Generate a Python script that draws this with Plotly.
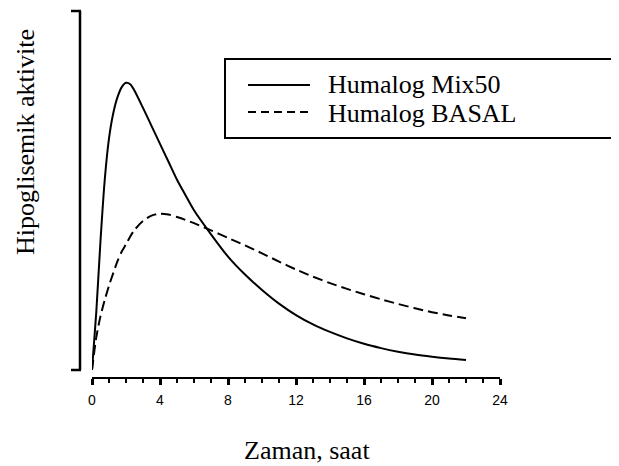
import plotly.graph_objects as go

# ---- data ----
hours = [0, 0.25, 0.5, 0.75, 1, 1.25, 1.5, 1.75, 2, 2.25, 2.5, 3, 3.5, 4, 4.5, 5, 5.5, 6, 7, 8, 9, 10,
         11, 12, 13, 14, 15, 16, 17, 18, 19, 20, 21, 22]
mix50 = [0, 16, 36, 53, 64.5, 71.5, 76, 78.8, 80, 79.6, 77.8, 73, 68, 63, 58, 53, 48.7, 44.5, 37.8, 31.6, 26.6, 22.3,
         18.5, 15.3, 12.7, 10.6, 8.8, 7.3, 6.1, 5.1, 4.3, 3.7, 3.2, 2.8]
basal = [0, 9, 15, 19.5, 23.5, 27, 30.3, 33, 35, 37.2, 39, 41.5, 43, 43.5, 43.3, 42.6, 41.8, 40.9, 38.9, 36.8, 34.7, 32.5,
         30.2, 28.0, 26.0, 24.2, 22.6, 21.1, 19.7, 18.4, 17.2, 16.1, 15.2, 14.4]
series_names = ["Humalog Mix50", "Humalog BASAL"]
x_ticks = [0, 4, 8, 12, 16, 20, 24]
x_title = "Zaman, saat"
y_title = "Hipoglisemik aktivite"

SERIF = "Liberation Serif, Times New Roman, serif"
SANS = "Liberation Sans, Arial, sans-serif"

fig = go.Figure()
fig.add_trace(go.Scatter(x=hours, y=mix50, mode="lines", name=series_names[0],
                         line=dict(color="black", width=2, shape="spline", smoothing=0.8)))
fig.add_trace(go.Scatter(x=hours, y=basal, mode="lines", name=series_names[1],
                         line=dict(color="black", width=2, dash="10px,5px", shape="spline", smoothing=0.8)))

OFF = 8  # page body margin
W, H = 619 - OFF, 466 - OFF
L, T = 92 - OFF, 11 - OFF
R = W - (500 - OFF)
B = H - (378 - OFF)
pw, ph = W - L - R, H - T - B


def px_x(sx):
    return (sx - OFF - L) / pw


def px_y(sy):
    return (H - B - (sy - OFF)) / ph


def seg(x0, y0, x1, y1, width=2.0, dash="solid"):
    return dict(type="line", xref="paper", yref="paper", x0=px_x(x0), x1=px_x(x1),
                y0=px_y(y0), y1=px_y(y1), line=dict(color="black", width=width, dash=dash))


shapes = [
    # y-axis bracket (offset from plot)
    seg(80, 11, 80, 370, 2.5),
    seg(71, 11, 81, 11, 2.5),
    seg(71, 370, 81, 370, 2.5),
    # legend box (open on the right, runs off the page)
    seg(225, 59, 640, 59, 2),
    seg(225, 138, 640, 138, 2),
    seg(225, 58, 225, 139, 2),
    # legend samples
    seg(248, 85, 310, 85, 2),
    seg(248, 112, 312, 112, 2, "8px,5px"),
]

annotations = [
    dict(text=series_names[0], xref="paper", yref="paper", x=px_x(326), y=px_y(85),
         xanchor="left", yanchor="middle", showarrow=False, font=dict(family=SERIF, size=26, color="black")),
    dict(text=series_names[1], xref="paper", yref="paper", x=px_x(326), y=px_y(113),
         xanchor="left", yanchor="middle", showarrow=False, font=dict(family=SERIF, size=26, color="black")),
    dict(text=x_title, xref="paper", yref="paper", x=px_x(307), y=px_y(450),
         xanchor="center", yanchor="middle", showarrow=False, font=dict(family=SERIF, size=26, color="black")),
    dict(text=y_title, xref="paper", yref="paper", x=px_x(25), y=px_y(142),
         xanchor="center", yanchor="middle", textangle=-90, showarrow=False,
         font=dict(family=SERIF, size=26, color="black")),
]

fig.update_layout(
    width=W, height=H,
    margin=dict(l=L, r=R, t=T, b=B, pad=0),
    paper_bgcolor="white", plot_bgcolor="white",
    showlegend=False,
    shapes=shapes,
    annotations=annotations,
    xaxis=dict(range=[0, 24], tickvals=x_ticks, ticktext=[str(v) for v in x_ticks],
               showline=True, linecolor="black", linewidth=2,
               ticks="outside", ticklen=6, tickwidth=2.5, tickcolor="black",
               minor=dict(dtick=1, ticks="outside", ticklen=4, tickwidth=1.8, tickcolor="black"),
               ticklabelstandoff=3,
               showgrid=False, zeroline=False, anchor="free", position=0,
               tickfont=dict(family=SANS, size=14, color="black")),
    yaxis=dict(range=[0, 100], domain=[8 / ph, 1], visible=False, showgrid=False, zeroline=False),
)

fig.write_html("out.html")
